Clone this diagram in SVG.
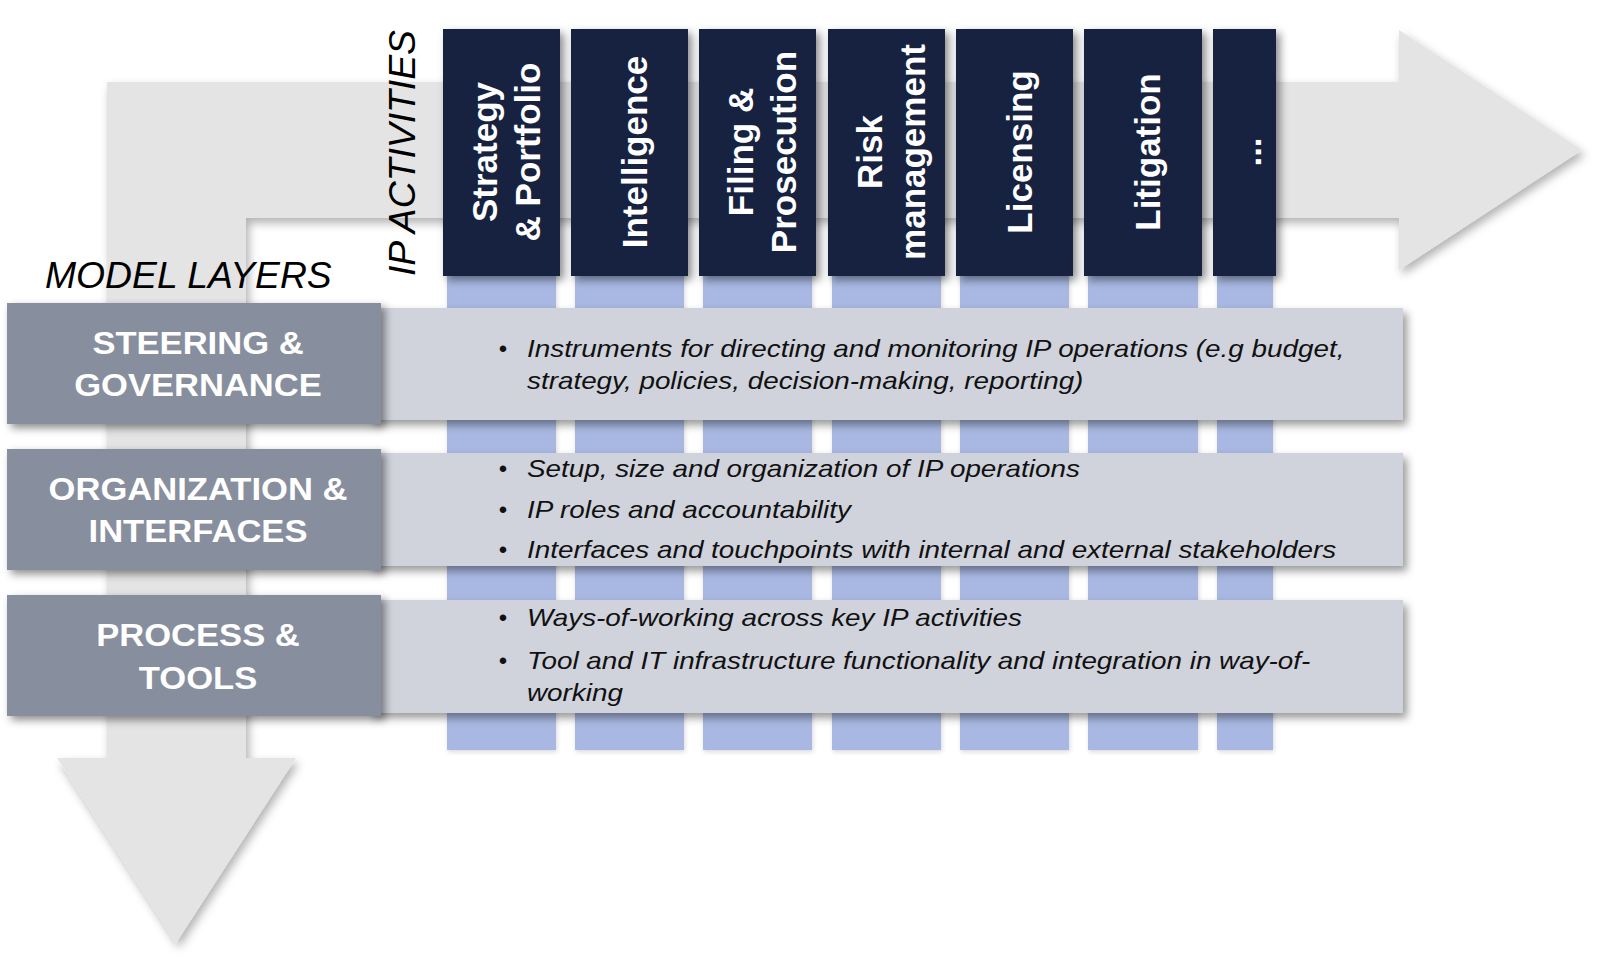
<svg xmlns="http://www.w3.org/2000/svg" width="1600" height="975" viewBox="0 0 1600 975">
  <defs>
    <filter id="shArrow" x="-10%" y="-10%" width="120%" height="120%">
      <feDropShadow dx="3" dy="5" stdDeviation="5" flood-color="#000" flood-opacity="0.3"/>
    </filter>
    <filter id="shBox" x="-20%" y="-20%" width="140%" height="140%">
      <feDropShadow dx="4" dy="4" stdDeviation="4" flood-color="#000" flood-opacity="0.45"/>
    </filter>
    <filter id="shBand" x="-5%" y="-20%" width="110%" height="140%">
      <feDropShadow dx="4" dy="5" stdDeviation="4" flood-color="#000" flood-opacity="0.4"/>
    </filter>
    <filter id="shStub" x="-10%" y="-5%" width="120%" height="110%">
      <feDropShadow dx="1" dy="2" stdDeviation="2" flood-color="#000" flood-opacity="0.15"/>
    </filter>
  </defs>
  <style>
    .arrow { fill: #e4e4e4; }
    .act { fill: #15203f; }
    .stub { fill: #a8b8e2; }
    .band { fill: #d0d3dc; }
    .layer { fill: #878e9e; }
    .actText { font-family: "Liberation Sans", Arial, sans-serif; font-weight: bold; font-size: 35px; fill: #ffffff; text-anchor: middle; }
    .layerText { font-family: "Liberation Sans", Arial, sans-serif; font-weight: bold; font-size: 32px; fill: #ffffff; text-anchor: middle; }
    .title { font-family: "Liberation Sans", Arial, sans-serif; font-style: italic; font-size: 37.3px; fill: #000000; }
    .body { font-family: "Liberation Sans", Arial, sans-serif; font-style: italic; font-size: 24px; fill: #111111; }
    .bullet { font-family: "Liberation Sans", Arial, sans-serif; font-size: 24px; fill: #111111; text-anchor: middle; }
  </style>

  <rect width="1600" height="975" fill="#ffffff"/>

  <g id="connectors">
    <path class="arrow" filter="url(#shArrow)" d="M107,82 L1399,82 L1399,30 L1582,150 L1399,270 L1399,218 L246,218 L246,758 L296,758 L176,943 L57,758 L107,758 Z"/>
  </g>

  <g id="titles">
    <text class="title" x="45" y="288">MODEL LAYERS</text>
    <text class="title" transform="translate(415,276) rotate(-90)">IP ACTIVITIES</text>
  </g>

  <g id="columns" filter="url(#shStub)">
    <rect class="stub" x="447" y="270" width="109" height="480"/>
    <rect class="stub" x="575" y="270" width="109" height="480"/>
    <rect class="stub" x="703" y="270" width="109" height="480"/>
    <rect class="stub" x="832" y="270" width="109" height="480"/>
    <rect class="stub" x="960" y="270" width="109" height="480"/>
    <rect class="stub" x="1088" y="270" width="110" height="480"/>
    <rect class="stub" x="1217" y="270" width="56" height="480"/>
  </g>

  <g id="act-strategy">
    <rect class="act" filter="url(#shBox)" x="443" y="29" width="117" height="247"/>
    <text class="actText" transform="translate(497,152) rotate(-90)">Strategy</text>
    <text class="actText" transform="translate(540,152) rotate(-90)">&amp; Portfolio</text>
  </g>
  <g id="act-intelligence">
    <rect class="act" filter="url(#shBox)" x="571" y="29" width="117" height="247"/>
    <text class="actText" transform="translate(647,152) rotate(-90)">Intelligence</text>
  </g>
  <g id="act-filing">
    <rect class="act" filter="url(#shBox)" x="699" y="29" width="117" height="247"/>
    <text class="actText" transform="translate(753,152) rotate(-90)">Filing &amp;</text>
    <text class="actText" transform="translate(796,152) rotate(-90)">Prosecution</text>
  </g>
  <g id="act-risk">
    <rect class="act" filter="url(#shBox)" x="828" y="29" width="117" height="247"/>
    <text class="actText" transform="translate(882,152) rotate(-90)">Risk</text>
    <text class="actText" transform="translate(925,152) rotate(-90)">management</text>
  </g>
  <g id="act-licensing">
    <rect class="act" filter="url(#shBox)" x="956" y="29" width="117" height="247"/>
    <text class="actText" transform="translate(1032,152) rotate(-90)">Licensing</text>
  </g>
  <g id="act-litigation">
    <rect class="act" filter="url(#shBox)" x="1084" y="29" width="118" height="247"/>
    <text class="actText" transform="translate(1160,152) rotate(-90)">Litigation</text>
  </g>
  <g id="act-more">
    <rect class="act" filter="url(#shBox)" x="1213" y="29" width="63" height="247"/>
    <text class="actText" transform="translate(1261,152) rotate(-90)">...</text>
  </g>

  <g id="band-steering">
    <rect class="band" filter="url(#shBand)" x="370" y="308" width="1033" height="112"/>
    <text class="bullet" x="503" y="357">•</text>
    <g transform="translate(527,0) scale(1.16,1)">
      <text class="body" x="0" y="357">Instruments for directing and monitoring IP operations (e.g budget,</text>
      <text class="body" x="0" y="389">strategy, policies, decision-making, reporting)</text>
    </g>
  </g>
  <g id="band-organization">
    <rect class="band" filter="url(#shBand)" x="370" y="453" width="1033" height="113"/>
    <text class="bullet" x="503" y="477">•</text>
    <text class="bullet" x="503" y="518">•</text>
    <text class="bullet" x="503" y="558">•</text>
    <g transform="translate(527,0) scale(1.16,1)">
      <text class="body" x="0" y="477">Setup, size and organization of IP operations</text>
      <text class="body" x="0" y="518">IP roles and accountability</text>
      <text class="body" x="0" y="558">Interfaces and touchpoints with internal and external stakeholders</text>
    </g>
  </g>
  <g id="band-process">
    <rect class="band" filter="url(#shBand)" x="370" y="600" width="1033" height="113"/>
    <text class="bullet" x="503" y="626">•</text>
    <text class="bullet" x="503" y="669">•</text>
    <g transform="translate(527,0) scale(1.16,1)">
      <text class="body" x="0" y="626">Ways-of-working across key IP activities</text>
      <text class="body" x="0" y="669">Tool and IT infrastructure functionality and integration in way-of-</text>
      <text class="body" x="0" y="701">working</text>
    </g>
  </g>

  <g id="layer-steering">
    <rect class="layer" filter="url(#shBox)" x="7" y="303" width="374" height="121"/>
    <g transform="translate(198,0) scale(1.08,1)">
      <text class="layerText" x="0" y="354">STEERING &amp;</text>
      <text class="layerText" x="0" y="396">GOVERNANCE</text>
    </g>
  </g>
  <g id="layer-organization">
    <rect class="layer" filter="url(#shBox)" x="7" y="449" width="374" height="121"/>
    <g transform="translate(198,0) scale(1.08,1)">
      <text class="layerText" x="0" y="500">ORGANIZATION &amp;</text>
      <text class="layerText" x="0" y="542">INTERFACES</text>
    </g>
  </g>
  <g id="layer-process">
    <rect class="layer" filter="url(#shBox)" x="7" y="595" width="374" height="121"/>
    <g transform="translate(198,0) scale(1.08,1)">
      <text class="layerText" x="0" y="646">PROCESS &amp;</text>
      <text class="layerText" x="0" y="689">TOOLS</text>
    </g>
  </g>
</svg>
